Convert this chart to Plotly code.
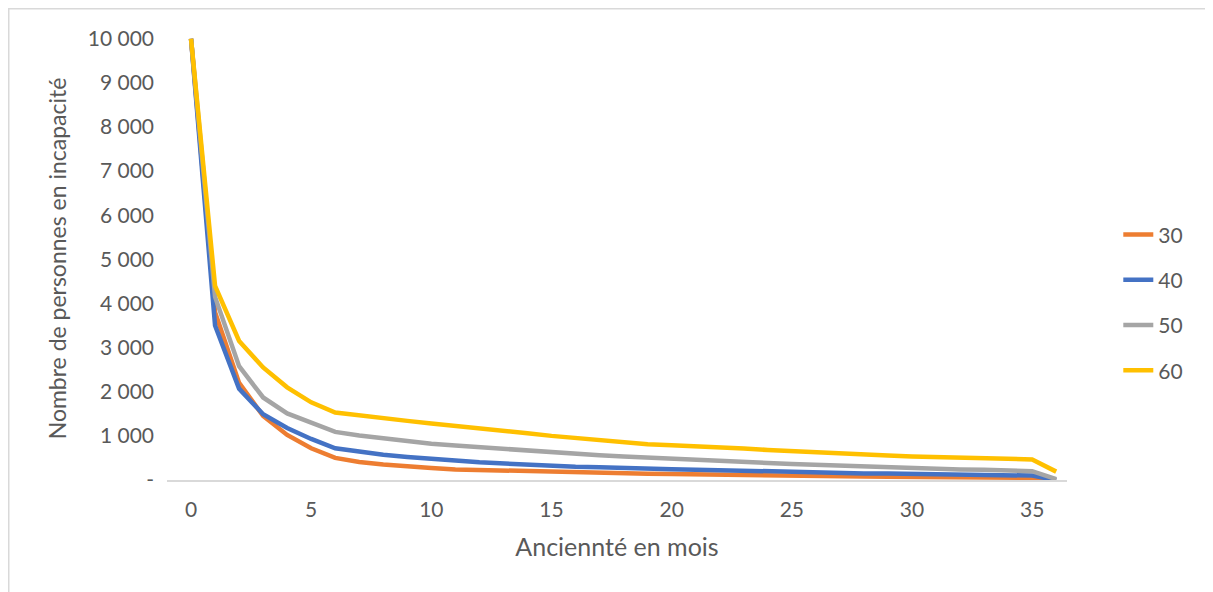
import plotly.graph_objects as go

months = list(range(0, 37))

s30 = [10000, 3800, 2200, 1450, 1020, 720, 500, 410, 350, 300, 270, 240, 225, 210, 195, 180,
       170, 160, 150, 140, 135, 125, 115, 110, 100, 95, 90, 85, 80, 75, 70, 65, 60, 55, 50, 50, 0]
s40 = [10000, 3500, 2070, 1490, 1180, 930, 720, 640, 570, 520, 470, 440, 400, 370, 350, 320,
       300, 290, 270, 260, 245, 235, 220, 205, 195, 180, 170, 160, 150, 145, 135, 130, 120, 115, 110, 100, 0]
s50 = [10000, 4150, 2580, 1870, 1510, 1290, 1090, 1010, 940, 880, 820, 780, 740, 700, 660, 620,
       590, 560, 530, 510, 490, 465, 440, 410, 385, 360, 340, 320, 300, 285, 270, 255, 240, 230, 215, 200, 20]
s60 = [10000, 4400, 3150, 2550, 2100, 1760, 1530, 1460, 1400, 1340, 1280, 1230, 1170, 1110, 1060, 1000,
       950, 900, 860, 810, 790, 770, 750, 715, 680, 650, 620, 600, 575, 555, 535, 520, 505, 490, 480, 465, 190]

series_names = ["30", "40", "50", "60"]
series_values = [s30, s40, s50, s60]
series_colors = ["#ED7D31", "#4472C4", "#A5A5A5", "#FFC000"]

y_tickvals = [0, 1000, 2000, 3000, 4000, 5000, 6000, 7000, 8000, 9000, 10000]
y_ticktext = ["-", "1 000", "2 000", "3 000", "4 000", "5 000", "6 000", "7 000", "8 000", "9 000", "10 000"]
x_tickvals = [0, 5, 10, 15, 20, 25, 30, 35]

FONT = "Lato, 'Open Sans', sans-serif"
GREY = "#595959"

fig = go.Figure()
for name, vals, col in zip(series_names, series_values, series_colors):
    fig.add_trace(go.Scatter(x=months, y=vals, mode="lines", name=name, legendgroup=name,
                             line=dict(color=col, width=4.5)))

fig.update_layout(
    width=1205, height=584,
    margin=dict(l=159, r=146, t=29, b=112, autoexpand=False),
    paper_bgcolor="white", plot_bgcolor="white",
    font=dict(family=FONT, color=GREY, size=21),
    showlegend=True,
    legend=dict(x=1.057, xanchor="left", y=0.40, yanchor="middle",
                font=dict(size=21, color=GREY), traceorder="grouped",
                tracegroupgap=15, bgcolor="rgba(0,0,0,0)"),
    xaxis=dict(range=[-1, 36.45], tickvals=x_tickvals, showgrid=False, zeroline=False,
               showline=True, linecolor="#D9D9D9", linewidth=2, ticks="",
               ticklabelstandoff=10, automargin=False,
               tickfont=dict(size=21, color=GREY),
               title=dict(text="Anciennté en mois", font=dict(size=25, color=GREY), standoff=18)),
    yaxis=dict(range=[0, 10040], tickvals=y_tickvals, ticktext=y_ticktext, showgrid=False,
               zeroline=False, showline=False, ticks="", ticklabelstandoff=12, automargin=False,
               tickfont=dict(size=21, color=GREY),
               title=dict(text="Nombre de personnes en incapacité", font=dict(size=23, color=GREY), standoff=14)),
)

fig.add_shape(type="rect", xref="paper", yref="paper",
              x0=(0.75 - 159) / 900, x1=1.3, y0=-0.5, y1=1 + (29 - 0.75) / 443,
              line=dict(color="#D9D9D9", width=1.5), fillcolor="rgba(0,0,0,0)", layer="below")

fig.write_html("out.html")
